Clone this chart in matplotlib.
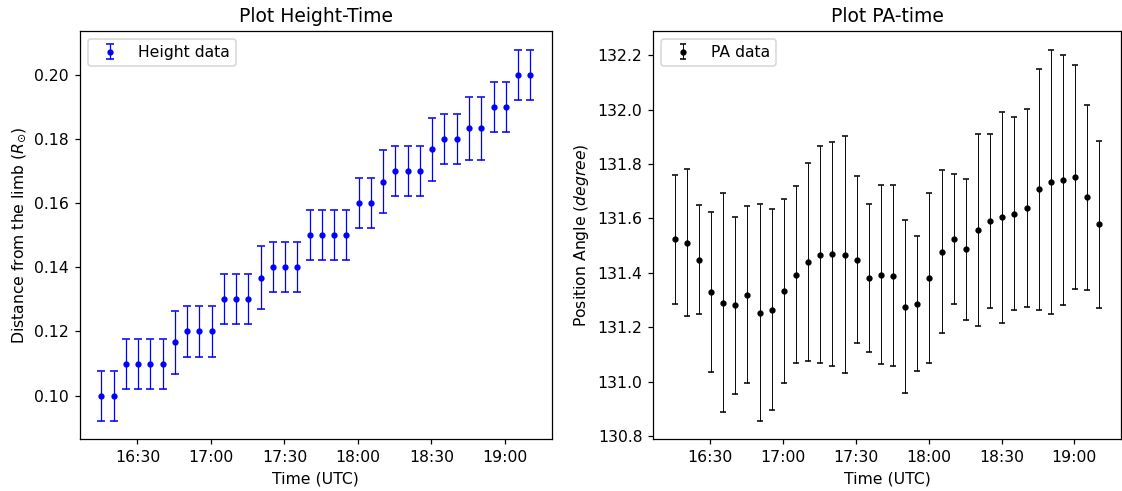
import matplotlib
matplotlib.use("Agg")
import matplotlib.pyplot as plt
import matplotlib.dates as mdates
from datetime import datetime

# Observation times (UTC)
times = [
    "16:15:20", "16:20:20", "16:25:20", "16:30:20", "16:35:20", "16:40:20",
    "16:45:20", "16:50:20", "16:55:20", "17:00:20", "17:05:20", "17:10:20",
    "17:15:20", "17:20:20", "17:25:20", "17:30:20", "17:35:20", "17:40:20",
    "17:45:20", "17:50:20", "17:55:20", "18:00:20", "18:05:20", "18:10:20",
    "18:15:20", "18:20:20", "18:25:20", "18:30:20", "18:35:20", "18:40:20",
    "18:45:20", "18:50:20", "18:55:20", "19:00:20", "19:05:20", "19:10:20",
]

# Height above the limb (solar radii) and its uncertainty
height = [
    0.1000, 0.1000, 0.1100, 0.1100, 0.1100, 0.1100,
    0.1167, 0.1200, 0.1200, 0.1200, 0.1300, 0.1300,
    0.1300, 0.1367, 0.1400, 0.1400, 0.1400, 0.1500,
    0.1500, 0.1500, 0.1500, 0.1600, 0.1600, 0.1667,
    0.1700, 0.1700, 0.1700, 0.1767, 0.1800, 0.1800,
    0.1833, 0.1833, 0.1900, 0.1900, 0.2000, 0.2000,
]
height_err = [
    0.0078, 0.0078, 0.0078, 0.0078, 0.0078, 0.0078,
    0.0098, 0.0078, 0.0078, 0.0078, 0.0078, 0.0078,
    0.0078, 0.0098, 0.0078, 0.0078, 0.0078, 0.0078,
    0.0078, 0.0078, 0.0078, 0.0078, 0.0078, 0.0098,
    0.0078, 0.0078, 0.0078, 0.0098, 0.0078, 0.0078,
    0.0098, 0.0098, 0.0078, 0.0078, 0.0078, 0.0078,
]

# Position angle (degrees) and its uncertainty
pa = [
    131.524, 131.511, 131.448, 131.330, 131.290, 131.280,
    131.320, 131.254, 131.264, 131.334, 131.393, 131.441,
    131.467, 131.470, 131.466, 131.448, 131.381, 131.393,
    131.390, 131.276, 131.287, 131.381, 131.478, 131.524,
    131.487, 131.558, 131.591, 131.605, 131.618, 131.638,
    131.708, 131.735, 131.741, 131.752, 131.677, 131.578,
]
pa_err = [
    0.237, 0.270, 0.200, 0.295, 0.402, 0.325,
    0.325, 0.398, 0.369, 0.338, 0.325, 0.364,
    0.398, 0.412, 0.436, 0.307, 0.272, 0.330,
    0.333, 0.319, 0.249, 0.314, 0.301, 0.238,
    0.259, 0.354, 0.321, 0.388, 0.355, 0.364,
    0.443, 0.486, 0.460, 0.413, 0.341, 0.308,
]

t = [datetime.strptime("2012-01-01 " + s, "%Y-%m-%d %H:%M:%S") for s in times]

DPI = 112.5
W, H = 1122, 491
fig = plt.figure(figsize=(W / DPI, H / DPI), dpi=DPI)
ax1 = fig.add_axes([80 / W, 51.7 / H, 471.7 / W, 408.3 / H])
ax2 = fig.add_axes([653.3 / W, 51.7 / H, 467.4 / W, 408.3 / H])

ax1.errorbar(t, height, yerr=height_err, fmt=".", color="blue", ecolor="blue",
             markersize=6, elinewidth=0.8, capsize=2.3, capthick=1, label="Height data")
ax1.set_title("Plot Height-Time", fontsize=12)
ax1.set_xlabel("Time (UTC)")
ax1.set_ylabel(r"Distance from the limb ($R_{\odot}$)")
ax1.legend(loc="upper left")

ax2.errorbar(t, pa, yerr=pa_err, fmt=".", color="black", ecolor="black",
             markersize=6, elinewidth=0.6, capsize=1.8, capthick=1, label="PA data")
ax2.set_title("Plot PA-time", fontsize=12)
ax2.set_xlabel("Time (UTC)")
ax2.set_ylabel(r"Position Angle ($degree$)")
ax2.legend(loc="upper left")

for ax in (ax1, ax2):
    ax.xaxis.set_major_locator(mdates.MinuteLocator(byminute=[0, 30]))
    ax.xaxis.set_major_formatter(mdates.DateFormatter("%H:%M"))

fig.savefig("out.png", dpi=DPI)
